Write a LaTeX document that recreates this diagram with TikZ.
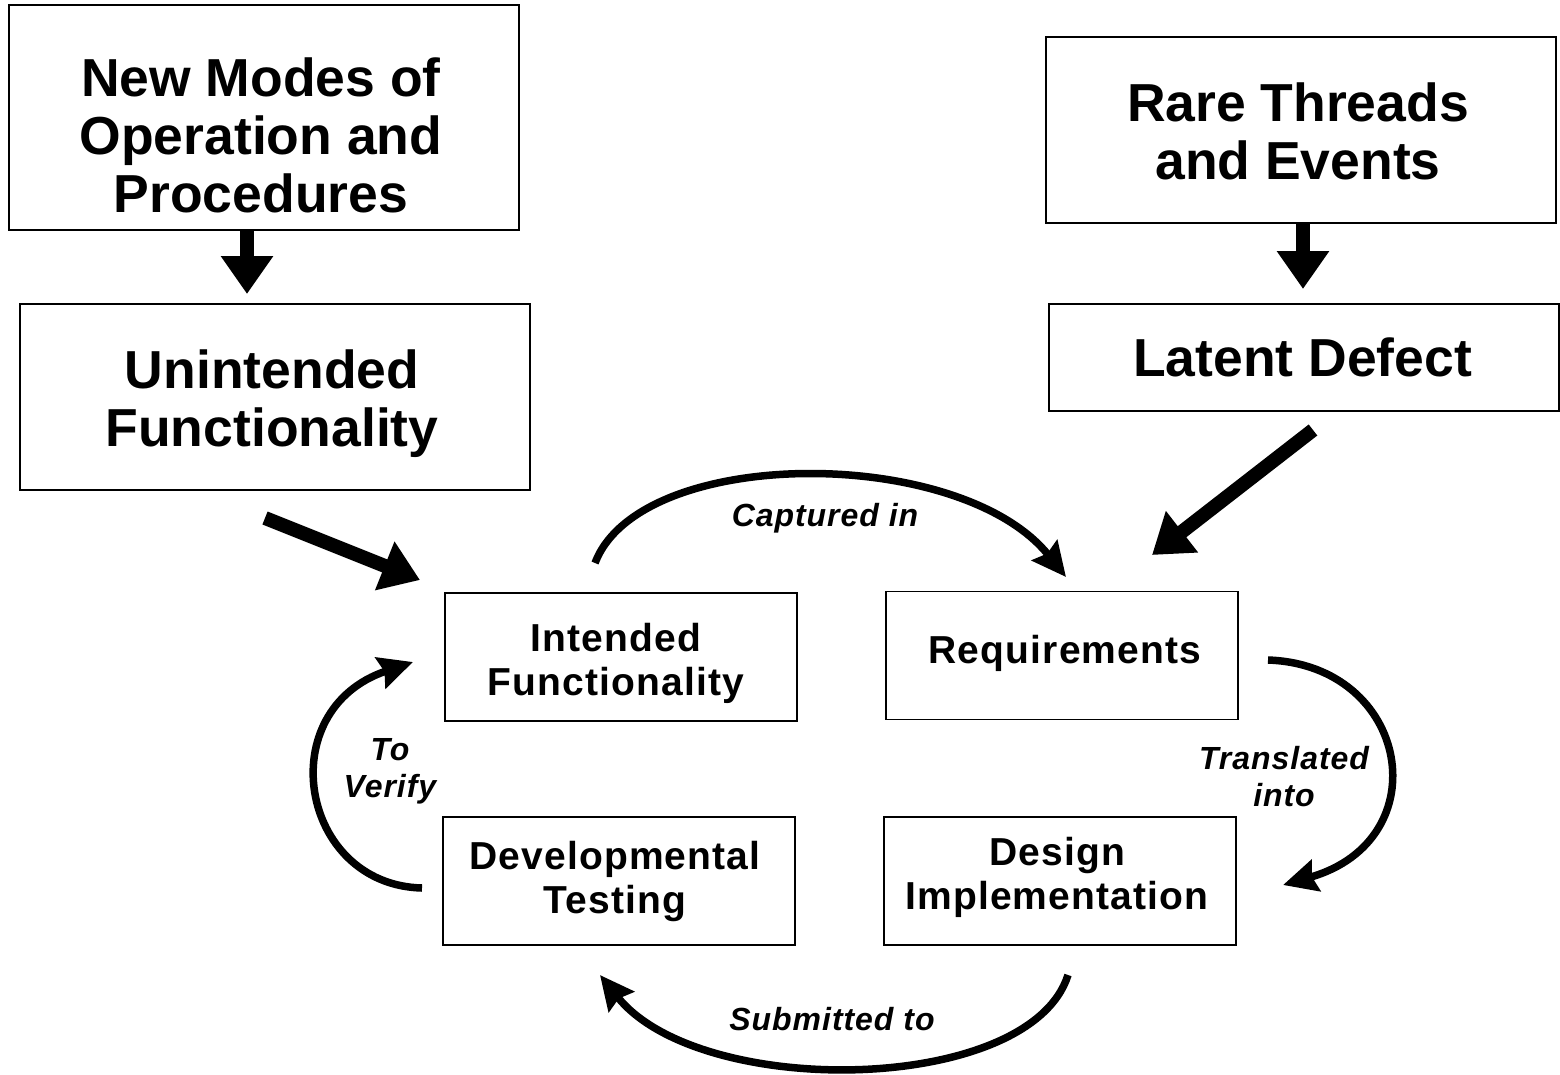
\documentclass[tikz,border=0pt]{standalone}
\usepackage{fontspec}
\setmainfont{Liberation Sans}
\newfontfamily\spacedfont{Liberation Sans}[LetterSpace=3]
\usetikzlibrary{arrows.meta,calc}
\begin{document}
\begin{tikzpicture}[x=1pt,y=-1pt,
  bigbox/.style={draw,line width=2pt,minimum width=510pt,inner sep=0pt},
  bigtext/.style={inner sep=0pt,align=center,
    font=\fontsize{53.5}{58}\selectfont\bfseries},
  smallbox/.style={draw,line width=1.5pt,minimum width=352pt,minimum height=128pt,
    inner sep=0pt},
  smalltext/.style={inner sep=0pt,align=center,
    font=\spacedfont\fontsize{39}{44}\selectfont\bfseries},
  lbl/.style={inner sep=0pt,align=center,
    font=\spacedfont\fontsize{32}{37}\selectfont\bfseries\itshape},
  fat/.style={line width=14pt,-{Triangle[width=50pt,length=38pt]}},
  cyc/.style={line width=7.5pt,-{Stealth[width=32pt,length=34pt,inset=4pt]}}
]
\fill[white] (0,0) rectangle (1560,1074);
\useasboundingbox (0,0) rectangle (1560,1074);

% source boxes
\node[bigbox,minimum height=225pt] (nm) at (264,117.5) {};
\node[bigtext] (nmt) at (261,135) {New Modes of\\Operation and\\Procedures};
\node[bigbox,minimum height=186pt] (uf) at (275,397) {};
\node[bigtext] (uft) at (272,404) {Unintended\\Functionality};
\node[bigbox,minimum height=186pt] (rt) at (1301,130) {};
\node[bigtext] (rtt) at (1298,131.5) {Rare Threads\\and Events};
\node[bigbox,minimum height=107pt] (ld) at (1304,357.5) {};
\node[bigtext] (ldt) at (1302.5,357.5) {Latent Defect};

% development cycle
\node[smallbox] (int) at (621,657) {};
\node[smalltext] (intt) at (616,663) {Intended\\Functionality};
\node[smallbox] (req) at (1062,655.5) {};
\node[smalltext] (reqt) at (1065,653.5) {Requirements};
\node[smallbox] (dev) at (619,881) {};
\node[smalltext] (devt) at (615,881) {Developmental\\Testing};
\node[smallbox] (des) at (1060,881) {};
\node[smalltext] (dest) at (1057,877) {Design\\Implementation};

% thick feed arrows
\draw[fat] ([xshift=-17pt]nm.south) -- ([xshift=-28pt,yshift=9pt]uf.north);
\draw[fat] ([xshift=2pt]rt.south) -- ([xshift=-1pt,yshift=14pt]ld.north);
\coordinate (ufout) at (265,518);
\coordinate (intin) at (420,580);
\draw[fat] (ufout) -- (intin);
\coordinate (ldout) at (1313,430);
\coordinate (reqin) at (1152,555);
\draw[fat] (ldout) -- (reqin);

% cycle arrows
\coordinate (capA) at (595,563);
\coordinate (capB) at (1066,577);
\draw[cyc] (capA) .. controls (640,445) and (960,445) .. (capB);
\coordinate (traA) at (1268,660);
\coordinate (traB) at (1283,885);
\draw[cyc] (traA) .. controls (1410,665) and (1440,840) .. (traB);
\coordinate (subA) at (1068,975);
\coordinate (subB) at (600,975);
\draw[cyc] (subA) .. controls (1030,1095) and (700,1100) .. (subB);
\coordinate (verA) at (422,888);
\coordinate (verB) at (413,662);
\draw[cyc] (verA) .. controls (300,885) and (270,710) .. (verB);

% cycle labels
\node[lbl] (capt) at (825,518) {Captured in};
\node[lbl] (tran) at (1284,777) {Translated\\into};
\node[lbl] (subm) at (832,1019) {Submitted to};
\node[lbl] (veri) at (390,771) {To\\Verify};
\end{tikzpicture}
\end{document}
